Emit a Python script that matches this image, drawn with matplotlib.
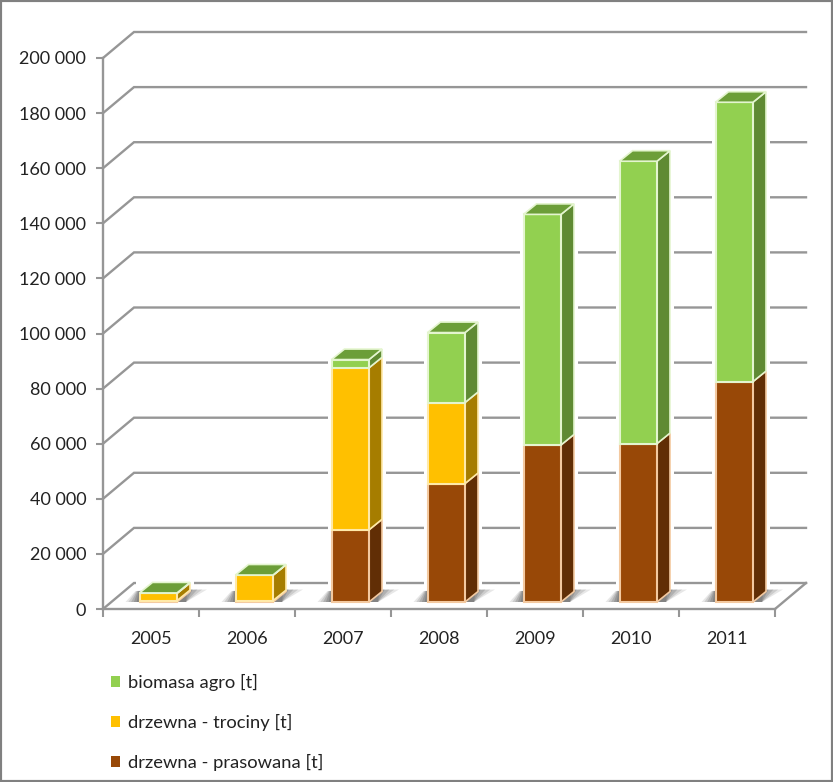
import matplotlib
matplotlib.use("Agg")
import matplotlib.pyplot as plt
from matplotlib.patches import Polygon, Rectangle

years = ["2005", "2006", "2007", "2008", "2009", "2010", "2011"]
prasowana = [500, 500, 26200, 43000, 57000, 57500, 80000]
trociny = [2600, 9200, 58800, 29400, 0, 0, 0]
agro = [200, 100, 3000, 25400, 83700, 102500, 101400]
y_ticks = [0, 20000, 40000, 60000, 80000, 100000, 120000, 140000, 160000, 180000, 200000]
labels = ["drzewna - prasowana [t]", "drzewna - trociny [t]", "biomasa agro [t]"]

front = ["#984807", "#FFC000", "#92D050"]
side = ["#612E05", "#A67D00", "#5F8A33"]
edge = ["#F3C9A0", "#FFE9A8", "#E4F5CF"]
top_color = "#6C9E38"
grid = "#969696"

plt.rcParams["font.family"] = ["Lato", "DejaVu Sans"]

fig = plt.figure(figsize=(8.33, 7.82), dpi=100)
# axes box = the front plane of the 3D chart
ax = fig.add_axes([103 / 833, 1 - 609 / 782, 672 / 833, 551 / 782])
ax.set_xlim(0, 7)
ax.set_ylim(0, 200000)
ax.patch.set_visible(False)

px = 7 / 672
py = 200000 / 551

# walls
wall_dx, wall_dy = 31 * px, 26 * py
for v in y_ticks:
    ax.plot([0, wall_dx, 7 + wall_dx], [v, v + wall_dy, v + wall_dy], color=grid, lw=1.7,
            clip_on=False, zorder=1, solid_joinstyle="miter")
ax.plot([7, 7 + wall_dx], [0, wall_dy], color=grid, lw=1.7, clip_on=False, zorder=1)

# bars
bar_w = 37.5 * px
shift_x, base = 36.5 * px, 7 * py
depth_x, depth_y = 13 * px, 10.5 * py

for i in range(len(years)):
    left = i + shift_x
    right = left + bar_w
    total = prasowana[i] + trociny[i] + agro[i]

    # white halo that cuts the gridlines next to the bar
    ax.add_patch(Rectangle((left - 4 * px, base), bar_w + depth_x + 8 * px, total + depth_y + 3 * py,
                           fc="white", ec="none", zorder=2, clip_on=False))

    # soft shadow on the floor
    for k, a in zip([1.0, 0.8, 0.6, 0.4, 0.2], [0.15, 0.2, 0.25, 0.3, 0.35]):
        ax.add_patch(Polygon([(left - 14 * k * px, base), (left - 4 * k * px, base + 11 * py),
                              (right + (6 + 24 * k) * px, base + 12.5 * py), (right + 9 * px, base)],
                             closed=True, fc="#606060", ec="none", alpha=a, zorder=2, clip_on=False))

    bottom = base
    for j, vals in enumerate([prasowana, trociny, agro]):
        h = vals[i]
        if h == 0:
            continue
        ax.add_patch(Polygon([(right, bottom), (right + depth_x, bottom + depth_y),
                              (right + depth_x, bottom + h + depth_y), (right, bottom + h)],
                             closed=True, fc=side[j], ec=edge[j], lw=1.2, zorder=3, clip_on=False))
        ax.bar(left, h, bar_w, bottom=bottom, align="edge", color=front[j], edgecolor=edge[j],
               linewidth=1.5, zorder=4, clip_on=False)
        bottom += h
    ax.add_patch(Polygon([(left, bottom), (right, bottom), (right + depth_x, bottom + depth_y),
                          (left + depth_x, bottom + depth_y)],
                         closed=True, fc=top_color, ec="#E4F5CF", lw=1.2, zorder=5, clip_on=False))

# axes
for s in ["top", "right"]:
    ax.spines[s].set_visible(False)
for s in ["left", "bottom"]:
    ax.spines[s].set_color(grid)
    ax.spines[s].set_linewidth(1.7)

ax.set_yticks(y_ticks)
ax.set_yticklabels([f"{v:,}".replace(",", " ") for v in y_ticks], fontsize=13, color="#222222")
ax.set_xticks(range(8))
ax.set_xticklabels([])
ax.set_xticks([i + 0.5 for i in range(7)], minor=True)
ax.set_xticklabels(years, minor=True, fontsize=13, color="#222222")
ax.tick_params(axis="y", length=5, width=1.5, color=grid, pad=7)
ax.tick_params(axis="x", which="major", length=6, width=1.5, color=grid)
ax.tick_params(axis="x", which="minor", length=0, pad=16)

# legend
handles = [Rectangle((0, 0), 1, 1, fc=front[j]) for j in [2, 1, 0]]
fig.legend(handles, [labels[j] for j in [2, 1, 0]], loc="upper left",
           bbox_to_anchor=(111 / 833, 1 - 674 / 782), frameon=False, fontsize=13.2,
           labelcolor="#222222", handlelength=0.5, handleheight=0.5, handletextpad=0.4,
           labelspacing=1.25, borderpad=0, borderaxespad=0)

# picture frame
fig.add_artist(Rectangle((0, 0), 1, 1, transform=fig.transFigure, fc="none", ec="#808080", lw=3))

fig.savefig("out.png", dpi=100)
